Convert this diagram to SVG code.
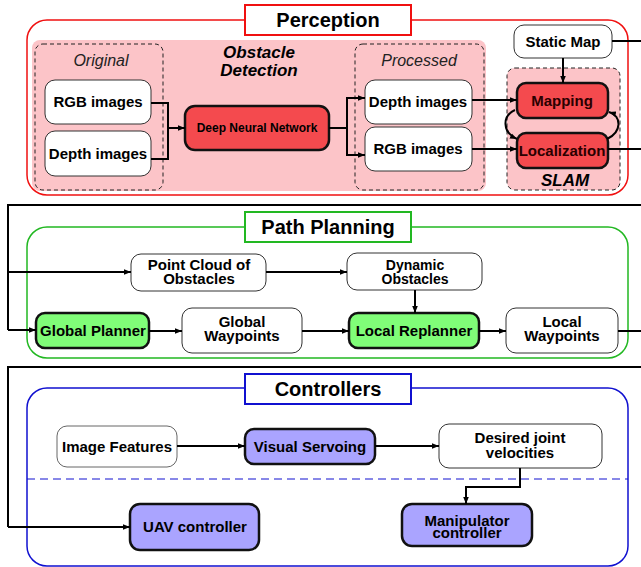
<svg xmlns="http://www.w3.org/2000/svg" width="641" height="567" viewBox="0 0 641 567">
<defs>
<marker id="ah" viewBox="0 0 10 10" refX="10" refY="5" markerWidth="7" markerHeight="7" markerUnits="userSpaceOnUse" orient="auto">
<path d="M0,1 L10,5 L0,9 Z" fill="#000"/>
</marker>
<style>
text{font-family:"Liberation Sans",Arial,sans-serif;font-weight:bold;font-size:15px;text-anchor:middle;fill:#000}
.title{font-size:20px}
.it{font-style:italic;font-weight:normal;font-size:16px;fill:#222}
.bi{font-style:italic;font-size:17px}
.w{fill:#fff;stroke:#333;stroke-width:1}
.red{fill:#f44a4e;stroke:#111;stroke-width:2.5}
.grn{fill:#80fd78;stroke:#111;stroke-width:2.5}
.blu{fill:#aaa4ff;stroke:#111;stroke-width:2.5}
.dash{fill:none;stroke:#222;stroke-width:1;stroke-dasharray:4,3}
.c{fill:none;stroke:#000;stroke-width:2}
.ca{fill:none;stroke:#000;stroke-width:2;marker-end:url(#ah)}
</style>
</defs>

<g id="perception-group">
<rect x="27" y="20" width="601" height="175" rx="20" fill="#fff" stroke="#f01010" stroke-width="1.5"/>
<rect x="245" y="5" width="166" height="30" fill="#fff" stroke="#f01010" stroke-width="2"/>
<text class="title" x="328" y="27">Perception</text>
</g>
<g id="obstacle-detection">
<rect x="32" y="40" width="454" height="151" rx="8" fill="#fcc4c8"/>
<text class="bi" x="259" y="58">Obstacle</text>
<text class="bi" x="259" y="76">Detection</text>
<rect class="dash" x="35" y="44" width="128" height="146" rx="8"/>
<text class="it" x="101" y="66">Original</text>
<rect class="dash" x="355" y="44" width="129" height="146" rx="8"/>
<text class="it" x="419" y="66">Processed</text>
</g>
<g id="slam">
<rect x="507" y="68" width="113" height="122" rx="8" fill="#fcc4c8" stroke="#222" stroke-width="1" stroke-dasharray="4,3"/>
<text class="bi" x="565" y="186">SLAM</text>
</g>

<g id="rgb-orig"><rect class="w" x="45" y="80" width="106" height="44" rx="10"/><text x="98" y="107">RGB images</text></g>
<g id="depth-orig"><rect class="w" x="45" y="131" width="106" height="45" rx="10"/><text x="98" y="159">Depth images</text></g>
<g id="dnn"><rect class="red" x="185" y="106" width="144" height="44" rx="10"/><text x="257" y="132" style="font-size:12px">Deep Neural Network</text></g>
<g id="depth-proc"><rect class="w" x="365" y="80" width="107" height="44" rx="10"/><text x="418" y="107">Depth images</text></g>
<g id="rgb-proc"><rect class="w" x="365" y="127" width="107" height="44" rx="10"/><text x="418" y="154">RGB images</text></g>
<g id="static-map"><rect class="w" x="514" y="25" width="98" height="33" rx="10"/><text x="563" y="47">Static Map</text></g>
<g id="mapping"><rect class="red" x="517" y="83" width="91" height="35" rx="9"/><text x="562" y="106" style="fill:#2a0000">Mapping</text></g>
<g id="localization"><rect class="red" x="517" y="133" width="91" height="35" rx="9"/><text x="562" y="156" style="fill:#2a0000">Localization</text></g>

<g id="path-planning-group">
<rect x="27" y="227" width="601" height="131" rx="20" fill="none" stroke="#22b822" stroke-width="1.5"/>
<rect x="245" y="212" width="166" height="30" fill="#fff" stroke="#22b822" stroke-width="2"/>
<text class="title" x="328" y="234">Path Planning</text>
</g>
<g id="point-cloud"><rect class="w" x="131" y="254" width="135" height="37" rx="10"/><text x="199" y="270">Point Cloud of</text><text x="199" y="284">Obstacles</text></g>
<g id="dynamic-obstacles"><rect class="w" x="347" y="253" width="135" height="37" rx="10"/><text x="415" y="270" style="font-size:14px">Dynamic</text><text x="415" y="284" style="font-size:14px">Obstacles</text></g>
<g id="global-planner"><rect class="grn" x="36" y="313" width="113" height="35" rx="9"/><text x="93" y="336">Global Planner</text></g>
<g id="global-waypoints"><rect class="w" x="182" y="308" width="120" height="45" rx="10"/><text x="242" y="327">Global</text><text x="242" y="341">Waypoints</text></g>
<g id="local-replanner"><rect class="grn" x="349" y="313" width="130" height="35" rx="9"/><text x="414" y="336">Local Replanner</text></g>
<g id="local-waypoints"><rect class="w" x="506" y="308" width="112" height="45" rx="10"/><text x="562" y="327">Local</text><text x="562" y="341">Waypoints</text></g>

<g id="controllers-group">
<rect x="27" y="388" width="601" height="178" rx="20" fill="none" stroke="#1010d0" stroke-width="1.5"/>
<rect x="245" y="374" width="166" height="30" fill="#fff" stroke="#1010d0" stroke-width="2"/>
<text class="title" x="328" y="396">Controllers</text>
<line x1="27" y1="479" x2="628" y2="479" stroke="#1010d0" stroke-width="1" stroke-dasharray="8,5"/>
</g>
<g id="image-features"><rect x="57" y="426" width="120" height="41" rx="10" fill="#fff" stroke="#666" stroke-width="1"/><text x="117" y="452">Image Features</text></g>
<g id="visual-servoing"><rect class="blu" x="245" y="429" width="130" height="35" rx="9"/><text x="310" y="452">Visual Servoing</text></g>
<g id="desired-joint"><rect class="w" x="439" y="424" width="163" height="44" rx="10"/><text x="520" y="443">Desired joint</text><text x="520" y="458">velocities</text></g>
<g id="uav-controller"><rect class="blu" x="130" y="504" width="129" height="46" rx="10"/><text x="195" y="532">UAV controller</text></g>
<g id="manipulator-controller"><rect class="blu" x="402" y="504" width="130" height="42" rx="10"/><text x="467" y="526">Manipulator</text><text x="467" y="538">controller</text></g>

<g id="connectors">
<path class="c" d="M151,103 H168 V159 H151"/>
<path class="ca" d="M168,128 H185"/>
<path class="c" d="M329,128 H347"/>
<path class="ca" d="M347,128 V98 H365"/>
<path class="ca" d="M347,128 V155 H365"/>
<path class="ca" d="M472,100 H517"/>
<path class="ca" d="M472,149 H517"/>
<path class="ca" d="M563,58 V83"/>
<path class="ca" d="M515,110 C502,116 502,132 517,139"/>
<path class="ca" d="M607,139 C622,132 622,116 609,112"/>
<path class="c" d="M612,41 H641"/>
<path class="c" d="M608,149 H641"/>
<path class="c" d="M641,205 H8 V330"/>
<path class="ca" d="M8,330 H36"/>
<path class="ca" d="M8,272 H131"/>
<path class="ca" d="M266,272 H347"/>
<path class="ca" d="M415,290 V313"/>
<path class="ca" d="M149,331 H182"/>
<path class="ca" d="M302,331 H349"/>
<path class="ca" d="M479,331 H506"/>
<path class="c" d="M618,331 H641"/>
<path class="c" d="M641,367 H8 V527"/>
<path class="ca" d="M8,527 H130"/>
<path class="ca" d="M177,446 H245"/>
<path class="ca" d="M375,446 H439"/>
<path class="ca" d="M520,468 V487 H466 V504"/>
</g>
</svg>
